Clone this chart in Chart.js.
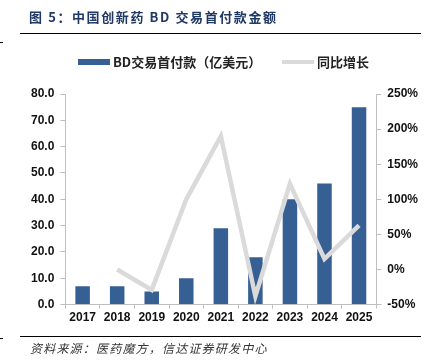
<!DOCTYPE html>
<html>
<head>
<meta charset="utf-8">
<script src="https://cdn.jsdelivr.net/npm/chart.js@4.4.1/dist/chart.umd.min.js"></script>
<style>
  body { margin: 0; background: #fff; }
  #wrap { position: relative; width: 430px; height: 360px; overflow: hidden; }
  #chart { position: absolute; left: 0; top: 0; }
  .title { position: absolute; left: 29px; top: 7px; font: bold 13px "Noto Sans CJK SC", sans-serif; color: #1f3864; letter-spacing: 1.6px; }
  .rule { position: absolute; left: 20px; width: 401px; height: 1px; background: #000; }
  .tick { position: absolute; left: 0; width: 3px; height: 1px; background: #000; }
  .source { position: absolute; left: 30px; top: 339px; font: italic 12px "Noto Sans CJK SC", sans-serif; color: #333; letter-spacing: 1.2px; }
  #legend { position: absolute; top: 53px; left: 0; width: 430px; height: 18px; }
  .item { position: absolute; top: 0; height: 18px; font: bold 13px "Noto Sans CJK SC", sans-serif; color: #222; white-space: nowrap; line-height: 18px; }
  .item i { position: absolute; top: 0; width: 32px; }
  .item span { position: absolute; left: 35px; top: 0; }
</style>
</head>
<body>
<div id="wrap">
  <canvas id="chart" width="430" height="360"></canvas>
  <div class="title">图 5：中国创新药 BD 交易首付款金额</div>
  <div class="rule" style="top:33px"></div>
  <div class="rule" style="top:336px"></div>
  <div class="tick" style="top:42px"></div>
  <div class="tick" style="top:338px"></div>
  <div id="legend"></div>
  <div class="source">资料来源：医药魔方，信达证券研发中心</div>
</div>
<script>
const years = ['2017', '2018', '2019', '2020', '2021', '2022', '2023', '2024', '2025'];
const upfront = [7, 7, 5, 10, 29, 18, 40, 46, 75];
const growth = [null, 0, -29, 100, 190, -38, 122, 15, 63];
const leftTicks = [0, 10, 20, 30, 40, 50, 60, 70, 80];
const rightTicks = [-50, 0, 50, 100, 150, 200, 250];

const barColor = '#365f93';
const lineColor = '#dadada';
const axisColor = '#bfbfbf';
const tickFont = { family: 'Liberation Sans, Arial, sans-serif', size: 12, weight: 'bold' };

const ctx = document.getElementById('chart').getContext('2d');
const chart = new Chart(ctx, {
  data: {
    labels: years,
    datasets: [
      {
        type: 'line',
        label: '同比增长',
        data: growth,
        yAxisID: 'y1',
        borderColor: lineColor,
        backgroundColor: lineColor,
        borderWidth: 4.5,
        pointRadius: 0,
        tension: 0,
        order: 0,
      },
      {
        type: 'bar',
        label: 'BD交易首付款（亿美元）',
        data: upfront,
        yAxisID: 'y',
        backgroundColor: barColor,
        barPercentage: 0.42,
        categoryPercentage: 1,
        order: 1,
      },
    ],
  },
  options: {
    responsive: false,
    animation: false,
    layout: { padding: { top: 94, left: 25, right: 6, bottom: 33 } },
    plugins: {
      legend: { display: false },
      tooltip: { enabled: false },
    },
    scales: {
      x: {
        offset: true,
        grid: { offset: true, drawOnChartArea: false, drawTicks: true, tickLength: 4, color: axisColor },
        border: { color: axisColor },
        ticks: { font: tickFont, color: '#111', padding: 2 },
      },
      y: {
        position: 'left',
        min: 0,
        max: 80,
        afterBuildTicks: (axis) => { axis.ticks = leftTicks.map(v => ({ value: v })); },
        grid: { drawOnChartArea: false, tickLength: 5, color: axisColor },
        border: { color: axisColor },
        ticks: { font: tickFont, color: '#111', padding: 6, callback: (v) => v.toFixed(1) },
      },
      y1: {
        position: 'right',
        min: -50,
        max: 250,
        afterBuildTicks: (axis) => { axis.ticks = rightTicks.map(v => ({ value: v })); },
        grid: { drawOnChartArea: false, tickLength: 5, color: axisColor },
        border: { color: axisColor },
        ticks: { font: tickFont, color: '#111', padding: 6, callback: (v) => v + '%' },
      },
    },
  },
});

// legend in HTML, built from the chart's datasets
const legend = document.getElementById('legend');
const legendPos = [
  { left: 78, h: 6, top: 6 },   // bars
  { left: 282, h: 4, top: 7 },  // line
];
[chart.data.datasets[1], chart.data.datasets[0]].forEach((ds, i) => {
  const p = legendPos[i];
  const item = document.createElement('div');
  item.className = 'item';
  item.style.left = p.left + 'px';
  const sw = document.createElement('i');
  sw.style.height = p.h + 'px';
  sw.style.top = p.top + 'px';
  sw.style.background = ds.type === 'bar' ? ds.backgroundColor : ds.borderColor;
  const tx = document.createElement('span');
  tx.textContent = ds.label;
  item.appendChild(sw);
  item.appendChild(tx);
  legend.appendChild(item);
});
</script>
</body>
</html>
